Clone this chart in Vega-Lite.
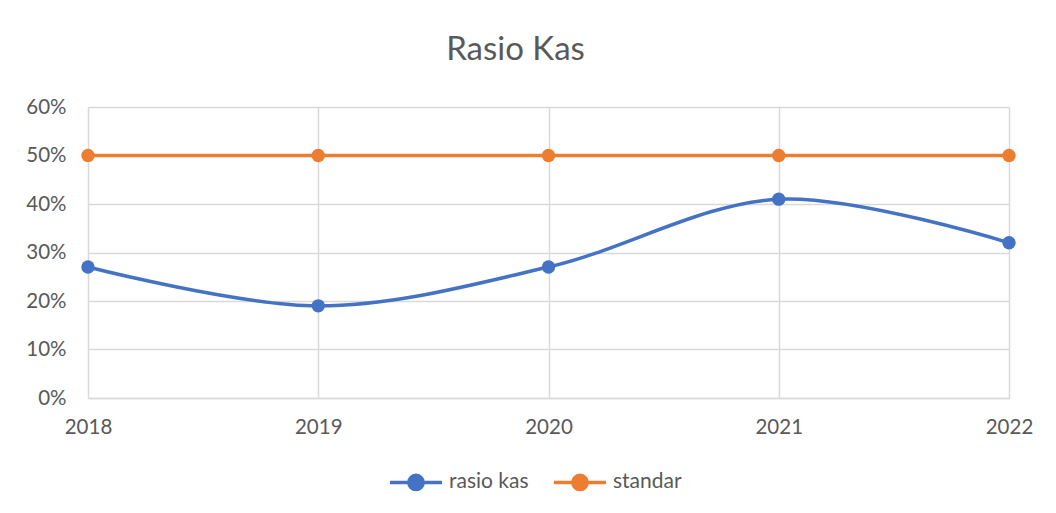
{
  "$schema": "https://vega.github.io/schema/vega-lite/v6.json",
  "autosize": "none",
  "width": 921,
  "height": 291,
  "padding": {"left": 88, "top": 107, "right": 47, "bottom": 115},
  "background": "white",
  "title": {
    "text": "Rasio Kas",
    "font": "Lato",
    "fontSize": 33,
    "fontWeight": "normal",
    "color": "#595959",
    "anchor": "middle",
    "frame": "group",
    "dx": -33,
    "offset": 30
  },
  "data": {
    "values": [
      {"year": "2018", "series": "rasio kas", "value": 0.27},
      {"year": "2019", "series": "rasio kas", "value": 0.19},
      {"year": "2020", "series": "rasio kas", "value": 0.27},
      {"year": "2021", "series": "rasio kas", "value": 0.41},
      {"year": "2022", "series": "rasio kas", "value": 0.32},
      {"year": "2018", "series": "standar", "value": 0.5},
      {"year": "2019", "series": "standar", "value": 0.5},
      {"year": "2020", "series": "standar", "value": 0.5},
      {"year": "2021", "series": "standar", "value": 0.5},
      {"year": "2022", "series": "standar", "value": 0.5}
    ]
  },
  "mark": {
    "type": "line",
    "interpolate": "catmull-rom",
    "strokeWidth": 3.5,
    "point": {"filled": true, "size": 180, "opacity": 1}
  },
  "encoding": {
    "x": {
      "field": "year",
      "type": "ordinal",
      "scale": {"type": "point", "padding": 0},
      "axis": {
        "title": null,
        "labelAngle": 0,
        "labelFont": "Lato",
        "labelFontSize": 20.5,
        "labelColor": "#595959",
        "labelPadding": 19,
        "ticks": false,
        "grid": true,
        "gridColor": "#d9d9d9",
        "gridWidth": 1.5,
        "domainColor": "#d9d9d9",
        "domainWidth": 1.5
      }
    },
    "y": {
      "field": "value",
      "type": "quantitative",
      "scale": {"domain": [0, 0.6], "nice": false},
      "axis": {
        "title": null,
        "values": [0, 0.1, 0.2, 0.3, 0.4, 0.5, 0.6],
        "format": ".0%",
        "labelFont": "Lato",
        "labelFontSize": 20.5,
        "labelColor": "#595959",
        "labelPadding": 22,
        "ticks": false,
        "domain": false,
        "grid": true,
        "gridColor": "#d9d9d9",
        "gridWidth": 1.5
      }
    },
    "color": {
      "field": "series",
      "type": "nominal",
      "scale": {"domain": ["rasio kas", "standar"], "range": ["#4472C4", "#ED7D31"]},
      "legend": {
        "title": null,
        "orient": "none",
        "direction": "horizontal",
        "legendX": 313,
        "legendY": 360,
        "labelFont": "Lato",
        "labelFontSize": 21,
        "labelColor": "#595959",
        "symbolType": "M-2,0L2,0M-0.55,0A0.55,0.55 0 1,1 0.55,0A0.55,0.55 0 1,1 -0.55,0Z",
        "symbolSize": 676,
        "symbolStrokeWidth": 3.5,
        "symbolOpacity": 1,
        "symbolFillColor": null,
        "columnPadding": 18,
        "labelOffset": 18
      }
    }
  },
  "config": {
    "view": {"stroke": null}
  }
}
